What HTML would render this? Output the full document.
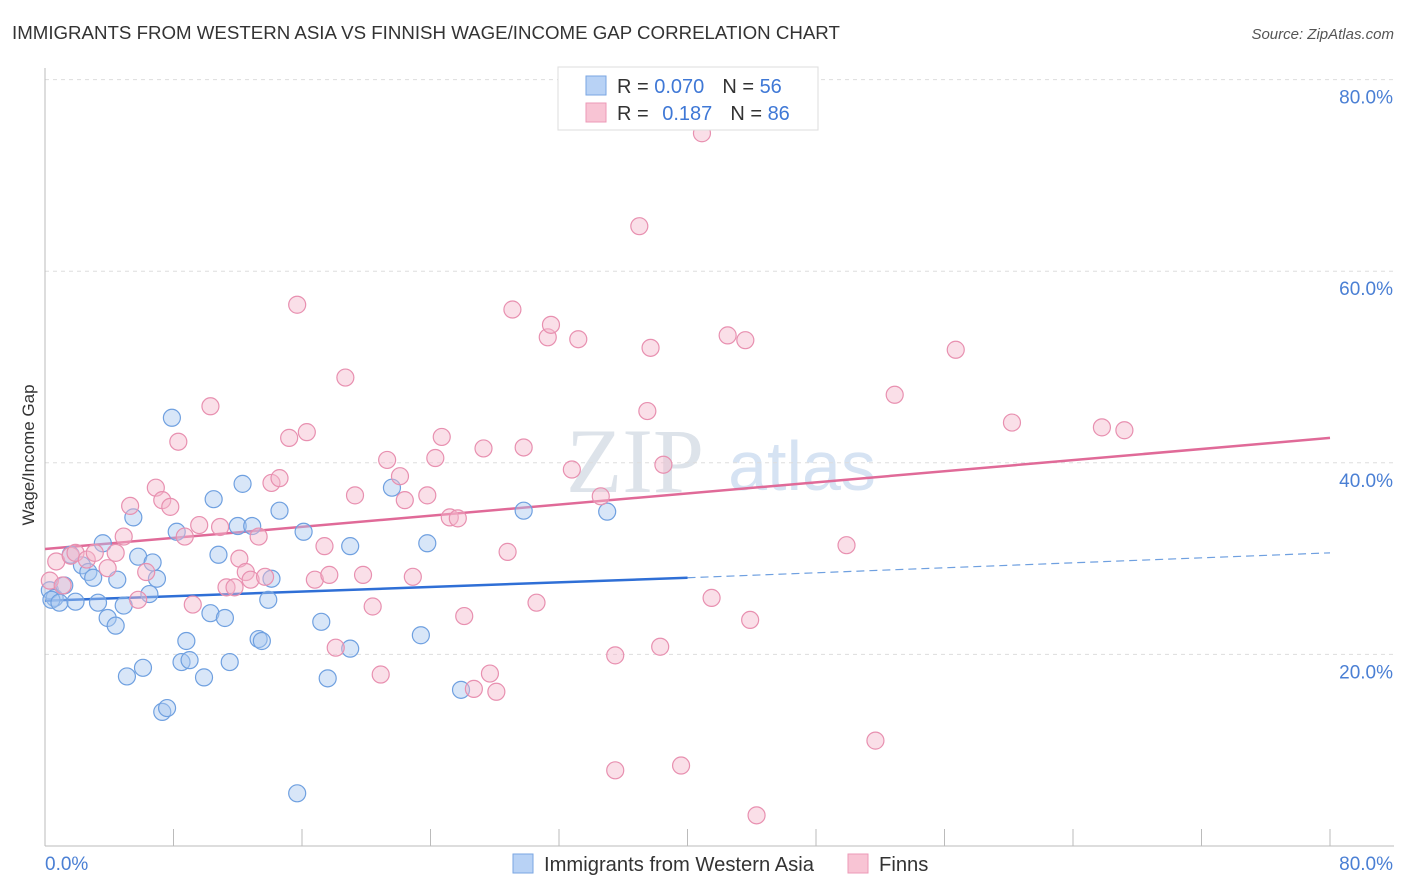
<!DOCTYPE html>
<html><head><meta charset="utf-8"><style>
body{margin:0;background:#fff;font-family:"Liberation Sans",sans-serif}
svg{display:block}
</style></head><body>
<svg id="chart" width="1406" height="892" xmlns="http://www.w3.org/2000/svg">
<text x="12" y="39" font-size="18.7" fill="#333">IMMIGRANTS FROM WESTERN ASIA VS FINNISH WAGE/INCOME GAP CORRELATION CHART</text>
<text x="1394" y="39" font-size="15" fill="#555" font-style="italic" text-anchor="end">Source: ZipAtlas.com</text>
<text x="635" y="492" font-size="92" fill="#dde3ea" font-family="Liberation Serif,serif" text-anchor="middle">ZIP</text>
<text x="802" y="490" font-size="70" fill="#d6e3f3" text-anchor="middle">atlas</text>
<text transform="translate(34,455) rotate(-90)" font-size="17" fill="#333" text-anchor="middle">Wage/Income Gap</text>
<g id="grid"></g><g id="ticks"></g><g id="lines"></g><g id="pts"></g>
<g>
<rect x="558" y="67" width="260" height="63" fill="#fff" stroke="#ddd"/>
<rect x="586" y="76" width="20" height="19" fill="#b8d2f5" stroke="#7aa6e2"/>
<rect x="586" y="103" width="20" height="19" fill="#f8c4d4" stroke="#ec9ab7"/>
<text x="617" y="93" font-size="20" fill="#333">R = <tspan fill="#3f78d6">0.070</tspan><tspan dx="18">N = </tspan><tspan fill="#3f78d6">56</tspan></text>
<text x="617" y="120" font-size="20" fill="#333">R = <tspan fill="#3f78d6" dx="8">0.187</tspan><tspan dx="18">N = </tspan><tspan fill="#3f78d6">86</tspan></text>
</g>
<g>
<rect x="513" y="854" width="20" height="19" fill="#b8d2f5" stroke="#7aa6e2"/>
<text x="544" y="871" font-size="20.2" fill="#333">Immigrants from Western Asia</text>
<rect x="848" y="854" width="20" height="19" fill="#f8c4d4" stroke="#ec9ab7"/>
<text x="879" y="871" font-size="20.2" fill="#333">Finns</text>
</g>
</svg>
<script>
const yTicks=[20,40,60,80];
const xTickLabels=["0.0%","80.0%"];
const blueX=[0.3,0.6,0.4,0.9,1.2,1.9,1.6,2.3,2.7,3.0,3.3,3.6,3.9,4.4,4.5,4.9,5.5,5.8,6.1,6.5,6.7,6.97,5.1,7.3,7.6,7.9,8.2,8.5,8.8,9.0,9.9,10.3,10.5,10.8,11.2,11.5,12.0,12.3,12.9,13.3,13.5,13.9,14.1,14.6,15.7,16.1,17.2,17.6,19.0,19.0,21.6,23.4,23.8,25.9,29.8,35.0];
const blueY=[26.7,25.9,25.7,25.4,27.2,25.5,30.4,29.3,28.6,28.0,25.4,31.6,23.8,23.0,27.8,25.1,34.3,30.2,18.6,26.3,29.6,27.9,17.7,14.0,14.4,44.7,32.8,19.2,21.4,19.4,17.6,24.3,36.2,30.4,23.8,19.2,33.4,37.8,33.4,21.6,21.4,25.7,27.9,35.0,5.5,32.8,23.4,17.5,31.3,20.6,37.4,22.0,31.6,16.3,35.0,34.9];
const pinkX=[0.3,0.7,1.1,1.6,1.9,2.6,3.1,3.9,4.4,4.9,5.3,5.8,6.3,6.9,7.3,7.8,8.3,8.7,9.2,9.6,10.3,10.9,11.3,11.8,12.1,12.5,12.8,13.3,13.7,14.1,14.6,15.2,15.7,16.3,16.8,17.4,17.7,18.1,18.7,19.3,19.8,20.4,20.9,21.3,22.1,22.4,22.9,23.8,24.3,24.7,25.2,25.7,26.1,26.7,27.3,27.7,28.1,28.8,29.1,29.8,30.6,31.3,31.5,33.2,32.8,34.6,35.5,35.5,37.5,37.7,37.0,38.3,38.5,39.6,40.9,41.5,42.5,43.6,43.9,44.3,49.9,51.7,52.9,56.7,60.2,65.8,67.2];
const pinkY=[27.7,29.7,27.2,30.3,30.6,29.9,30.6,29.0,30.6,32.3,35.5,25.7,28.6,37.4,36.1,35.4,42.2,32.3,25.2,33.5,45.9,33.3,27.0,27.0,30.0,28.6,27.8,32.3,28.1,37.9,38.4,42.6,56.5,43.2,27.8,31.3,28.3,20.7,48.9,36.6,28.3,25.0,17.9,40.3,38.6,36.1,28.1,36.6,40.5,42.7,34.3,34.2,24.0,16.4,41.5,18.0,16.1,30.7,56.0,41.6,25.4,53.1,54.4,52.9,39.3,36.5,19.9,7.9,45.4,52.0,64.7,20.8,39.8,8.4,74.4,25.9,53.3,52.8,23.6,3.2,31.4,11.0,47.1,51.8,44.2,43.7,43.4];
const blueLine=[25.6,28.0,30.6];
const pinkLine=[31.0,42.6];
const NS="http://www.w3.org/2000/svg";
const X=v=>45+v*16.0625, Y=v=>846-v*9.58;
function mk(tag,attrs,parent){const e=document.createElementNS(NS,tag);for(const k in attrs)e.setAttribute(k,attrs[k]);parent.appendChild(e);return e;}
const grid=document.getElementById('grid'),ticks=document.getElementById('ticks');
yTicks.forEach(t=>{
 const l=mk('line',{x1:45,x2:1394,y1:Y(t),y2:Y(t),stroke:'#ddd','stroke-dasharray':'4,4'},grid);
 
 
 const tx=mk('text',{x:1393,y:Y(t)+24,'font-size':19,fill:'#4a7fd4','text-anchor':'end'},ticks);
 tx.textContent=t.toFixed(1)+'%';
 
 
});
const ax=mk('line',{x1:45,x2:45,y1:68,y2:846,stroke:'#bbb'},grid);


const bx=mk('line',{x1:45,x2:1394,y1:846,y2:846,stroke:'#bbb'},grid);


for(let i=0;i<=10;i++){const l=mk('line',{x1:X(i*8),x2:X(i*8),y1:829,y2:846,stroke:'#bbb'},grid);
 
 }
[[0,45,'start'],[1,1393,'end']].forEach(([i,x,a])=>{const t=mk('text',{x:x,y:870,'font-size':19,fill:'#4a7fd4','text-anchor':a},ticks);t.textContent=xTickLabels[i];
 
 });
const pts=document.getElementById('pts');
function dots(xs,ys,fill,stroke,name){xs.forEach((x,i)=>{const c=mk('circle',{cx:X(x),cy:Y(ys[i]),r:8.5,fill:fill,'fill-opacity':0.45,stroke:stroke,'stroke-width':1.2},pts);
 
 });}
dots(blueX,blueY,'#a9c8f0','#6fa0e0','blue-point');
dots(pinkX,pinkY,'#f5b8cc','#e890b0','pink-point');
const lines=document.getElementById('lines');
const b1=mk('line',{x1:X(0),y1:Y(blueLine[0]),x2:X(40),y2:Y(blueLine[1]),stroke:'#2f6fd6','stroke-width':2.5},lines);


const b2=mk('line',{x1:X(40),y1:Y(blueLine[1]),x2:X(80),y2:Y(blueLine[2]),stroke:'#6fa0e0','stroke-width':1.2,'stroke-dasharray':'8,5'},lines);


const p1=mk('line',{x1:X(0),y1:Y(pinkLine[0]),x2:X(80),y2:Y(pinkLine[1]),stroke:'#e06a98','stroke-width':2.5},lines);


</script>
</body></html>
